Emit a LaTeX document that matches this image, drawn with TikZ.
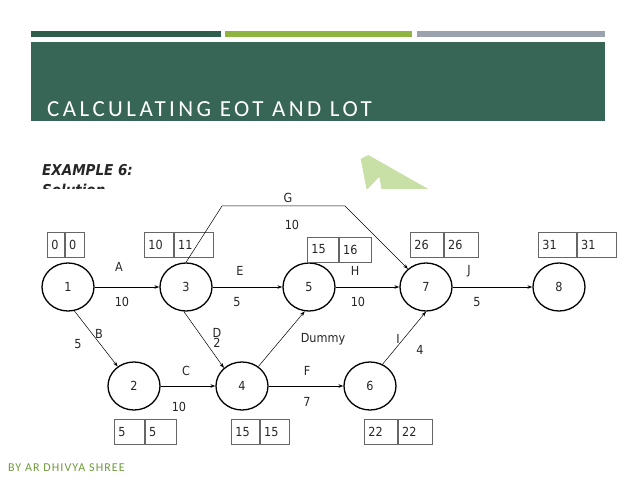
\documentclass[tikz,border=0pt]{standalone}
\usepackage{fontspec}
\usepackage{xcolor}
\usepackage{tikz}
\usetikzlibrary{shapes.geometric,positioning,arrows.meta}
\setmainfont{DejaVu Sans Condensed}
\newfontfamily\titlefont[LetterSpace=15]{Carlito}
\newfontfamily\footfont[LetterSpace=9]{Carlito}
\definecolor{hdrgreen}{HTML}{376556}
\definecolor{bargreen}{HTML}{2F5E4C}
\definecolor{barlime}{HTML}{8DB540}
\definecolor{bargrey}{HTML}{9AA3AD}
\definecolor{wmark}{HTML}{C8DFA6}
\definecolor{ink}{HTML}{262626}
\definecolor{byline}{HTML}{6E9A3C}

\begin{document}
\begin{tikzpicture}[x=1pt,y=-1pt,
  ev/.style={ellipse, draw, line width=1.3pt, minimum width=52pt, minimum height=48pt, inner sep=0pt, text=ink, font=\fontsize{12.5}{14}\selectfont},
  cell/.style={draw=black!60, line width=0.8pt, minimum height=25pt, anchor=west, inner sep=4pt, text width=#1, align=left, text=ink, font=\fontsize{12.5}{14}\selectfont},
  lbl/.style={inner sep=0pt, text=ink, font=\fontsize{12.5}{14}\selectfont},
  arr/.style={-{Stealth[length=5pt,width=3.5pt]}, line width=0.9pt}]
\useasboundingbox (0,0) rectangle (638,478);
\fill[bargreen] (31,31) rectangle (221,37);
\fill[barlime] (225,31) rectangle (412,37);
\fill[bargrey] (417,31) rectangle (605,37);
\fill[hdrgreen] (31,42) rectangle (605,121);
\node[anchor=base west, inner sep=0pt, text=white, font=\titlefont\fontsize{23}{26}\selectfont] (title) at (47,117) {CALCULATING EOT AND LOT};

\begin{scope}
\clip (0,125) rectangle (638,189);
\fill[wmark] (360.7,159) -- (368.3,155) -- (430,190) -- (381.7,190) -- (379.3,176.7) -- (366.7,190) -- cycle;
\node[anchor=north west, inner sep=0pt, text=ink, font=\bfseries\itshape\fontsize{15}{17}\selectfont] (sol) at (42,184) {Solution};
\end{scope}
\node[anchor=west, inner sep=0pt, text=ink, font=\bfseries\itshape\fontsize{15}{17}\selectfont] (ex) at (42,170) {EXAMPLE 6:};

\node[ev] (1) at (68,287) {1};
\node[ev] (3) at (186,287) {3};
\node[ev] (5) at (309,287) {5};
\node[ev] (7) at (426,287) {7};
\node[ev] (8) at (559,287) {8};
\node[ev] (2) at (134,386) {2};
\node[ev] (4) at (242,386) {4};
\node[ev] (6) at (370,386) {6};

\node[cell=9pt] (e1) at (47,244.5) {0};
\node[cell=11pt, right=0pt of e1] (l1) {0};
\node[cell=21pt] (e3) at (144,244.5) {10};
\node[cell=31pt, right=0pt of e3] (l3) {11};
\node[cell=23pt] (e5) at (307,249.5) {15};
\node[cell=24pt, right=0pt of e5] (l5) {16};
\node[cell=25pt] (e7) at (410,244.5) {26};
\node[cell=26pt, right=0pt of e7] (l7) {26};
\node[cell=30pt] (e8) at (538,244.5) {31};
\node[cell=31pt, right=0pt of e8] (l8) {31};
\node[cell=22pt] (e2) at (114,432) {5};
\node[cell=23pt, right=0pt of e2] (l2) {5};
\node[cell=20pt] (e4) at (231,432) {15};
\node[cell=21pt, right=0pt of e4] (l4) {15};
\node[cell=25pt] (e6) at (364,432) {22};
\node[cell=26pt, right=0pt of e6] (l6) {22};

\coordinate (g1) at (222,206);
\coordinate (g2) at (345,206);

\draw[arr] (1) -- (3);
\draw[arr] (3) -- (5);
\draw[arr] (5) -- (7);
\draw[arr] (7) -- (8);
\draw[arr] (2) -- (4);
\draw[arr] (4) -- (6);
\draw[arr, line width=0.5pt] (1.-75) -- (2.130);
\draw[arr, line width=0.5pt] (3.-95) -- (4.135);
\draw[arr, line width=0.5pt] (4.50) -- (5.-100);
\draw[arr, line width=0.5pt] (6.60) -- (7.-90);
\draw[arr, line width=0.5pt] (3.90) -- (g1) -- (g2) -- (7.135);

\node[lbl] (tA) at (119,267) {A};
\node[lbl] (dA) at (122,302) {10};
\node[lbl] (tE) at (240,271) {E};
\node[lbl] (dE) at (237,302) {5};
\node[lbl] (tH) at (355,271) {H};
\node[lbl] (dH) at (358,302) {10};
\node[lbl] (tJ) at (469,271) {J};
\node[lbl] (dJ) at (477,302) {5};
\node[lbl] (tB) at (99,334) {B};
\node[lbl] (dB) at (78,344) {5};
\node[lbl] (tD) at (217,333) {D};
\node[lbl] (dD) at (217,343) {2};
\node[lbl] (tDm) at (323,339) {Dummy};
\node[lbl] (tC) at (186,371) {C};
\node[lbl] (dC) at (179,407) {10};
\node[lbl] (tF) at (307,371) {F};
\node[lbl] (dF) at (307,402) {7};
\node[lbl] (tI) at (398,339) {I};
\node[lbl] (dI) at (420,350) {4};
\node[lbl] (tG) at (288,198) {G};
\node[lbl] (dG) at (292,225) {10};

\node[anchor=west, inner sep=0pt, text=byline, font=\footfont\fontsize{12}{14}\selectfont] (by) at (8,468) {BY AR DHIVYA SHREE};
\end{tikzpicture}
\end{document}
